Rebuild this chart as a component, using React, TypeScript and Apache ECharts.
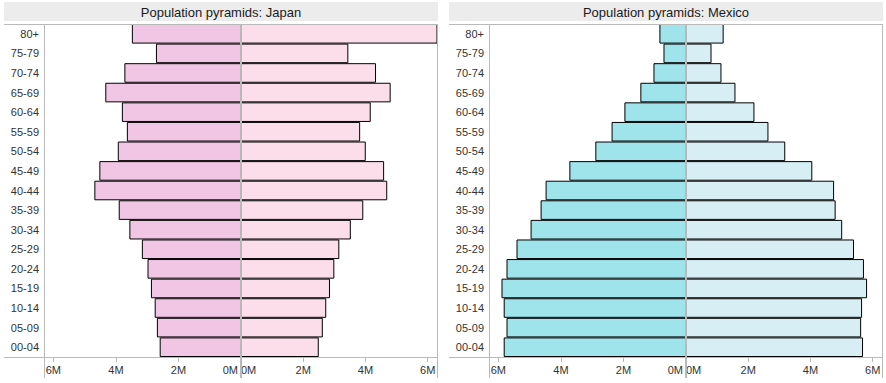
import React, { useEffect, useRef } from "react";
import * as echarts from "echarts";

const CATEGORIES = ["00-04", "05-09", "10-14", "15-19", "20-24", "25-29", "30-34", "35-39", "40-44", "45-49", "50-54", "55-59", "60-64", "65-69", "70-74", "75-79", "80+"];

// values in millions
const JAPAN_MALE = [2.6, 2.69, 2.76, 2.88, 2.99, 3.17, 3.57, 3.91, 4.69, 4.53, 3.94, 3.65, 3.81, 4.34, 3.73, 2.72, 3.49];
const JAPAN_FEMALE = [2.5, 2.63, 2.74, 2.86, 3.0, 3.16, 3.53, 3.93, 4.7, 4.6, 4.01, 3.83, 4.17, 4.81, 4.34, 3.45, 6.5];
const MEXICO_MALE = [5.83, 5.74, 5.83, 5.9, 5.74, 5.42, 4.97, 4.65, 4.49, 3.73, 2.9, 2.38, 1.97, 1.46, 1.04, 0.72, 0.85];
const MEXICO_FEMALE = [5.69, 5.63, 5.66, 5.82, 5.72, 5.4, 5.02, 4.81, 4.76, 4.06, 3.19, 2.65, 2.2, 1.59, 1.14, 0.82, 1.21];

const TITLES = ["Population pyramids: Japan", "Population pyramids: Mexico"];
const AXIS_MAX = 6.3;
const AXIS_STEP = 2;

const FONT = "'Liberation Sans', Arial, sans-serif";
const FRAME = "#b9b9b9";
const TEXT = "#333";

const PANELS = [
  { title: TITLES[0], male: JAPAN_MALE, female: JAPAN_FEMALE, maleColor: "#f1c6e4", femaleColor: "#fcdeea" },
  { title: TITLES[1], male: MEXICO_MALE, female: MEXICO_FEMALE, maleColor: "#9fe3eb", femaleColor: "#d6eef4" },
];

export default function App() {
  const ref = useRef<HTMLDivElement>(null);
  useEffect(() => {
    document.body.style.margin = "0";
    const chart = echarts.init(ref.current!, null, { renderer: "svg" });
    const top = 24;
    const bottom = 357;
    const grids: any[] = [];
    const xAxes: any[] = [];
    const yAxes: any[] = [];
    const series: any[] = [];
    const graphic: any[] = [];
    const labelStyle = { fontSize: 11, fontFamily: FONT, color: TEXT };

    PANELS.forEach((p, i) => {
      const ox = i * 445;
      const leftEdge = 44 + ox;
      const center = 241 + ox;
      const rightEdge = 437 + ox;
      grids.push({ left: leftEdge, top, width: center - leftEdge, height: bottom - top });
      grids.push({ left: center, top, width: rightEdge - center, height: bottom - top });
      const axisCommon = {
        type: "value",
        min: 0,
        max: AXIS_MAX,
        interval: AXIS_STEP,
        splitLine: { show: false },
        axisLine: { show: false },
        axisTick: { show: true, length: 5, lineStyle: { color: FRAME } },
      };
      xAxes.push({
        ...axisCommon,
        gridIndex: 2 * i,
        inverse: true,
        axisLabel: {
          ...labelStyle,
          showMaxLabel: false,
          margin: 7,
          alignMinLabel: "right",
          formatter: (v: number) => (v === 0 ? "{z|0M}" : `${v}M`),
          rich: { z: { ...labelStyle, padding: [0, 3, 0, 0] } },
        },
      });
      xAxes.push({
        ...axisCommon,
        gridIndex: 2 * i + 1,
        axisLabel: {
          ...labelStyle,
          showMaxLabel: false,
          margin: 7,
          alignMinLabel: "left",
          formatter: (v: number) => `${v}M`,
        },
      });
      yAxes.push({
        type: "category",
        gridIndex: 2 * i,
        data: CATEGORIES,
        axisLine: { show: false },
        axisTick: { show: false },
        axisLabel: { margin: 5, ...labelStyle },
      });
      yAxes.push({
        type: "category",
        gridIndex: 2 * i + 1,
        data: CATEGORIES,
        axisLine: { show: false },
        axisTick: { show: false },
        axisLabel: { show: false },
      });
      series.push({
        type: "bar",
        xAxisIndex: 2 * i,
        yAxisIndex: 2 * i,
        data: p.male,
        barCategoryGap: "0%",
        clip: true,
        itemStyle: { color: p.maleColor, borderColor: "#000", borderWidth: 1 },
      });
      series.push({
        type: "bar",
        xAxisIndex: 2 * i + 1,
        yAxisIndex: 2 * i + 1,
        data: p.female,
        barCategoryGap: "0%",
        clip: true,
        itemStyle: { color: p.femaleColor, borderColor: "#000", borderWidth: 1 },
      });

      // title bar
      graphic.push({ type: "rect", z: 1, shape: { x: 4 + ox, y: 2, width: 434, height: 19 }, style: { fill: "#ececec" } });
      graphic.push({
        type: "text",
        z: 2,
        x: 221 + ox,
        y: 12,
        style: { text: p.title, fill: "#1a1a1a", fontSize: 13, fontFamily: FONT, align: "center", verticalAlign: "middle" },
      });
      // frame lines
      const ls = { stroke: FRAME, lineWidth: 1 };
      graphic.push({ type: "line", z: 100, shape: { x1: 4 + ox, y1: top + 0.5, x2: rightEdge + 0.5, y2: top + 0.5 }, style: ls });
      graphic.push({ type: "line", z: 100, shape: { x1: 4 + ox, y1: bottom + 0.5, x2: rightEdge + 0.5, y2: bottom + 0.5 }, style: ls });
      graphic.push({ type: "line", z: 100, shape: { x1: leftEdge + 0.5, y1: top, x2: leftEdge + 0.5, y2: 378 }, style: ls });
      graphic.push({ type: "line", z: 100, shape: { x1: center, y1: top, x2: center, y2: 378 }, style: { stroke: FRAME, lineWidth: 2 } });
      graphic.push({ type: "line", z: 100, shape: { x1: rightEdge + 0.5, y1: top, x2: rightEdge + 0.5, y2: 378 }, style: ls });
    });

    chart.setOption({
      animation: false,
      backgroundColor: "#fff",
      grid: grids,
      xAxis: xAxes,
      yAxis: yAxes,
      series,
      graphic,
    });
    return () => chart.dispose();
  }, []);
  return <div ref={ref} style={{ position: "fixed", left: 0, top: 0, width: 886, height: 383 }} />;
}
